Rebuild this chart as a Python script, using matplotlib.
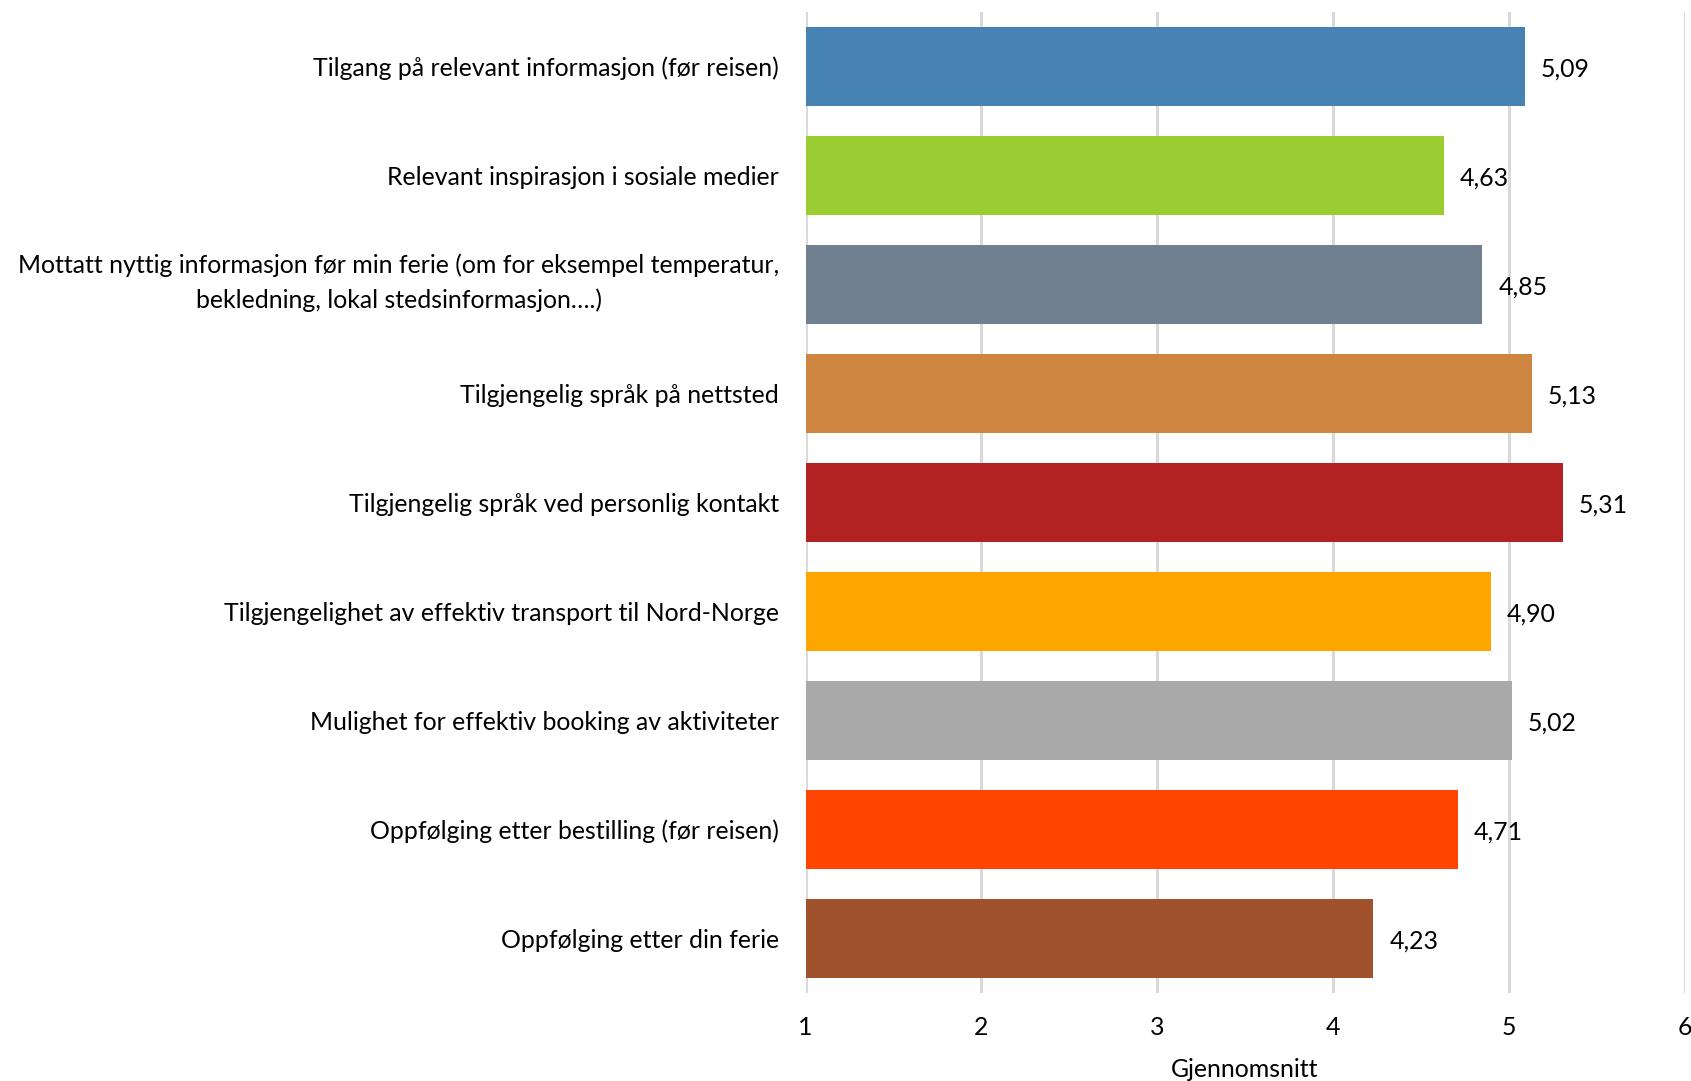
import matplotlib
matplotlib.use("Agg")
import matplotlib.pyplot as plt
import matplotlib.transforms as mtransforms

# Data
kategorier = [
    "Tilgang på relevant informasjon (før reisen)",
    "Relevant inspirasjon i sosiale medier",
    "Mottatt nyttig informasjon før min ferie (om for eksempel temperatur,\nbekledning, lokal stedsinformasjon….)",
    "Tilgjengelig språk på nettsted",
    "Tilgjengelig språk ved personlig kontakt",
    "Tilgjengelighet av effektiv transport til Nord-Norge",
    "Mulighet for effektiv booking av aktiviteter",
    "Oppfølging etter bestilling (før reisen)",
    "Oppfølging etter din ferie",
]
verdier = [5.09, 4.63, 4.85, 5.13, 5.31, 4.90, 5.02, 4.71, 4.23]
farger = ["steelblue", "yellowgreen", "slategray", "peru", "firebrick",
          "orange", "darkgray", "orangered", "sienna"]
xticks = [1, 2, 3, 4, 5, 6]

plt.rcParams['font.family'] = ['Lato', 'DejaVu Sans']
fs = 17.9

fig = plt.figure(figsize=(16.91, 10.81), dpi=100)
ax = fig.add_axes([0.4764, 0.0814, 0.5198, 0.9075])

pos = list(range(len(kategorier)))
ax.barh(pos, [v - 1 for v in verdier], left=1, height=0.725, color=farger, zorder=3)

# verdietiketter, litt ned
ned = mtransforms.ScaledTranslation(0, -2 / 72, fig.dpi_scale_trans)
for p, v in zip(pos, verdier):
    ax.text(v + 0.09, p, f"{v:.2f}".replace(".", ","), va="center", ha="left",
            fontsize=fs, color="black", transform=ax.transData + ned)

ax.set_xlim(1, 6)
ax.set_ylim(len(kategorier) - 0.5, -0.5)
ax.set_xticks(xticks)
ax.set_yticks(pos)
ax.set_yticklabels(kategorier, fontsize=fs, multialignment="center", linespacing=1.55)
ax.grid(axis="x", color="#d9d9d9", linewidth=2.2, zorder=0)
for s in ax.spines.values():
    s.set_visible(False)
ax.tick_params(axis="y", length=0, pad=19)
ax.tick_params(axis="x", length=0, pad=16.5, labelsize=fs)
ax.set_xlabel("Gjennomsnitt", fontsize=fs, labelpad=14)

# flyttes opp, to-linjers etikett
opp = mtransforms.ScaledTranslation(0, 6.5 / 72, fig.dpi_scale_trans)
lbl = ax.get_yticklabels()[2]
lbl.set_transform(lbl.get_transform() + opp)

fig.savefig("out.png", dpi=100)
